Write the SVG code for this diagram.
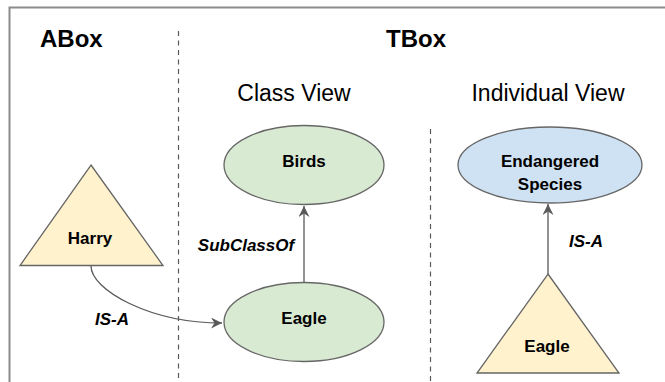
<svg xmlns="http://www.w3.org/2000/svg" width="665" height="382" viewBox="0 0 665 382">
  <style>
    .title { font-family: "Liberation Sans", Arial, sans-serif; font-size: 23px; fill: #000; }
    .bold { font-weight: bold; font-size: 24px; }
    .node-label { font-family: "Liberation Sans", Arial, sans-serif; font-size: 17px; font-weight: bold; fill: #000; text-anchor: middle; }
    .edge-label { font-family: "Liberation Sans", Arial, sans-serif; font-size: 17px; font-weight: bold; font-style: italic; fill: #000; text-anchor: middle; }
    .frame { stroke: #8c8c8c; stroke-width: 2; fill: none; }
    .divider { stroke: #595959; stroke-width: 1.2; stroke-dasharray: 5 4.5; fill: none; }
    .cls { fill: #d9ead3; stroke: #666; stroke-width: 1.3; }
    .ind { fill: #cfe2f3; stroke: #666; stroke-width: 1.3; }
    .inst { fill: #fff2cc; stroke: #666; stroke-width: 1.3; }
    .edge { stroke: #595959; stroke-width: 1.3; fill: none; marker-end: url(#arrow); }
  </style>
  <defs>
    <marker id="arrow" markerUnits="userSpaceOnUse" markerWidth="12" markerHeight="11" refX="11" refY="5.5" orient="auto">
      <path d="M0,0 L11,5.5 L0,11 L3.5,5.5 Z" fill="#595959"/>
    </marker>
  </defs>

  <rect width="665" height="382" fill="#fff"/>

  <!-- outer frame (top and left edges) -->
  <path class="frame" d="M9.5,382 L9.5,7.5 L665,7.5"/>

  <!-- section dividers -->
  <line class="divider" x1="178.5" y1="31" x2="178.5" y2="382"/>
  <line class="divider" x1="430.5" y1="129" x2="430.5" y2="382"/>

  <!-- headings -->
  <text class="title bold" x="40" y="47">ABox</text>
  <text class="title bold" x="416" y="47" text-anchor="middle">TBox</text>
  <text class="title" x="294" y="101" text-anchor="middle">Class View</text>
  <text class="title" x="548" y="101" text-anchor="middle">Individual View</text>

  <!-- connectors -->
  <g id="connectors">
    <path class="edge" d="M91,266 C91,290 150,323 222,323"/>
    <line class="edge" x1="304" y1="283" x2="304" y2="206"/>
    <line class="edge" x1="548" y1="274" x2="548" y2="204"/>
    <text class="edge-label" x="112" y="325">IS-A</text>
    <text class="edge-label" x="246" y="251">SubClassOf</text>
    <text class="edge-label" x="586" y="247">IS-A</text>
  </g>

  <g id="harry">
    <polygon class="inst" points="91,165 163,265.5 20,265.5"/>
    <text class="node-label" x="90" y="244">Harry</text>
  </g>

  <g id="birds">
    <ellipse class="cls" cx="304" cy="165" rx="80" ry="39.5"/>
    <text class="node-label" x="304" y="167">Birds</text>
  </g>

  <g id="eagle-class">
    <ellipse class="cls" cx="304" cy="322" rx="80" ry="39.5"/>
    <text class="node-label" x="304" y="324">Eagle</text>
  </g>

  <g id="endangered-species">
    <ellipse class="ind" cx="550" cy="165" rx="92" ry="38"/>
    <text class="node-label" x="550" y="167">Endangered</text>
    <text class="node-label" x="550" y="190">Species</text>
  </g>

  <g id="eagle-individual">
    <polygon class="inst" points="548,274 619,373 477,373"/>
    <text class="node-label" x="547" y="352">Eagle</text>
  </g>
</svg>
